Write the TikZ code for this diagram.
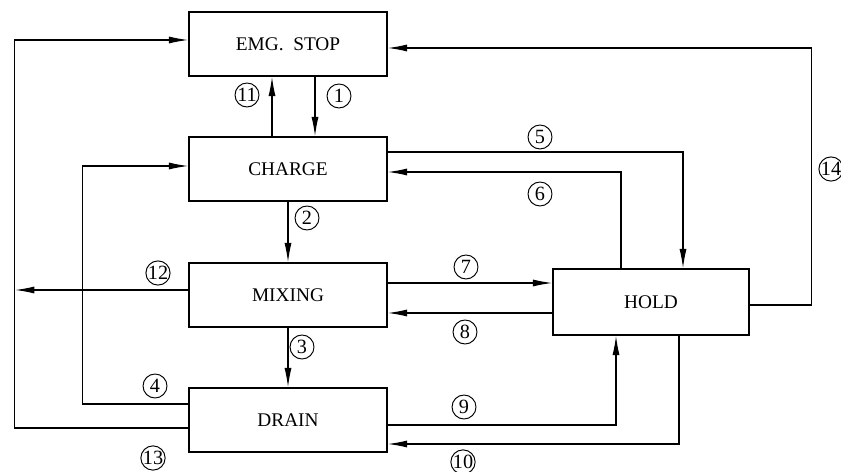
\documentclass[tikz,border=0pt]{standalone}
\usepackage{fontspec}
\setmainfont{Liberation Serif}
\usepackage{tikz}
\usetikzlibrary{arrows.meta,calc}
\tikzset{
  stbox/.style ={draw, line width=0.8pt, inner sep=0pt,
                 minimum width=#1, minimum height=1.28cm,
                 font=\fontsize{11}{13}\selectfont},
  stbox/.default=3.96cm,
  numc/.style  ={draw, circle, line width=0.55pt, inner sep=0pt,
                 minimum size=0.48cm, font=\fontsize{11.5}{11.5}\selectfont},
  arr/.style   ={-{Latex[length=11pt,width=4pt]}, line width=0.7pt},
}
\begin{document}
\begin{tikzpicture}[x=0.02cm, y=-0.02cm]
\useasboundingbox[fill=white] (0,0) rectangle (841,472);

%% ─── States ──────────────────────────────────────────────────────────────────
\node[stbox] (EMG)    at (288,44)  {EMG.\ \ STOP};
\node[stbox] (CHARGE) at (288,169) {CHARGE};
\node[stbox] (MIXING) at (288,295) {MIXING};
\node[stbox] (DRAIN)  at (288,420) {DRAIN};
\node[stbox=3.92cm, minimum height=1.32cm] (HOLD) at (651,302) {HOLD};

%% ─── Transitions along the left column ───────────────────────────────────────
\draw[arr] ($(EMG.south)+(27,0)$)     -- ($(CHARGE.north)+(27,0)$);   % 1
\draw[arr] ($(CHARGE.north)+(-16,0)$) -- ($(EMG.south)+(-16,0)$);     % 11
\draw[arr] (CHARGE.south) -- (MIXING.north);                          % 2
\draw[arr] (MIXING.south) -- (DRAIN.north);                           % 3

%% ─── Transitions to and from HOLD ────────────────────────────────────────────
\draw[arr] ($(CHARGE.east)+(0,-17)$) -| ($(HOLD.north)+(32,0)$);      % 5
\draw[arr] ($(HOLD.north)+(-30,0)$)  |- ($(CHARGE.east)+(0,3)$);      % 6
\draw[arr] ($(MIXING.east)+(0,-12)$) -- ($(HOLD.west)+(0,-19)$);      % 7
\draw[arr] ($(HOLD.west)+(0,11)$)    -- ($(MIXING.east)+(0,18)$);     % 8
\draw[arr] ($(DRAIN.east)+(0,5)$)    -| ($(HOLD.south)+(-35,0)$);     % 9
\draw[arr] ($(HOLD.south)+(28,0)$)   |- ($(DRAIN.east)+(0,24)$);      % 10
\draw[arr] ($(HOLD.east)+(0,3)$) -- ++(62,0) |- ($(EMG.east)+(0,4)$); % 14

%% ─── Return loops on the left ────────────────────────────────────────────────
\draw[arr] ($(DRAIN.west)+(0,-16)$) -- ++(-106,0) |- ($(CHARGE.west)+(0,-3)$); % 4
\draw[arr] ($(DRAIN.west)+(0,8)$)   -- ++(-174,0) |- ($(EMG.west)+(0,-4)$);    % 13
\coordinate (J12) at (15,290);
\draw[arr] ($(MIXING.west)+(0,-5)$) -- (J12);                                  % 12

%% ─── Transition numbers ──────────────────────────────────────────────────────
\foreach \n/\x/\y in {1/339/96, 2/307/218, 3/302/347, 4/155/386, 5/540/137,
                      6/540/194, 7/466/267, 8/465/332, 9/464/407, 10/463/462,
                      11/247/95, 12/158/273, 13/153/458, 14/831/169}{
  \node[numc] (L\n) at (\x,\y) {\n};
}

\end{tikzpicture}
\end{document}
